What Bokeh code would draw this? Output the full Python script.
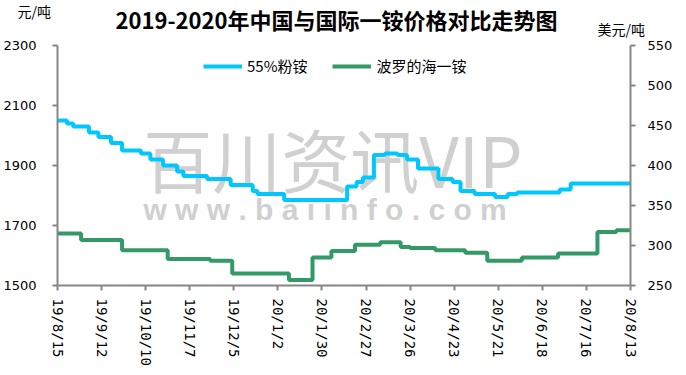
import pandas as pd
from bokeh.plotting import figure
from bokeh.layouts import column, row
from bokeh.models import Range1d, LinearAxis, FixedTicker, Label, Legend
from bokeh.embed import file_html
from bokeh.resources import INLINE

# ---- data ----
start_date = "2019-08-15"
tick_labels = ["19/8/15", "19/9/12", "19/10/10", "19/11/7", "19/12/5", "20/1/2", "20/1/30",
               "20/2/27", "20/3/26", "20/4/23", "20/5/21", "20/6/18", "20/7/16", "20/8/13"]
left_ticks = [1500, 1700, 1900, 2100, 2300]
right_ticks = [250, 300, 350, 400, 450, 500, 550]

cn_dates = ["2019-08-15", "2019-08-21", "2019-08-25", "2019-09-04", "2019-09-10", "2019-09-18",
            "2019-09-25", "2019-10-07", "2019-10-13", "2019-10-21", "2019-10-30", "2019-11-03",
            "2019-11-18", "2019-12-03", "2019-12-17", "2019-12-20", "2020-01-06", "2020-02-15",
            "2020-02-21", "2020-02-25", "2020-03-03", "2020-03-10", "2020-03-18", "2020-03-24",
            "2020-03-31", "2020-04-13", "2020-04-22", "2020-04-27", "2020-05-06", "2020-05-19",
            "2020-05-27", "2020-06-02", "2020-06-29", "2020-07-06", "2020-08-13"]
cn_values = [2050, 2040, 2030, 2010, 1995, 1975, 1950, 1940, 1920, 1900, 1880, 1865, 1855, 1835,
             1815, 1805, 1785, 1830, 1845, 1860, 1935, 1940, 1935, 1920, 1890, 1855, 1845, 1815,
             1805, 1795, 1805, 1810, 1820, 1840, 1840]

bal_dates = ["2019-08-15", "2019-08-30", "2019-09-25", "2019-10-24", "2019-11-20", "2019-12-04",
             "2020-01-09", "2020-01-24", "2020-02-05", "2020-02-20", "2020-03-07", "2020-03-20",
             "2020-03-26", "2020-04-11", "2020-04-30", "2020-05-14", "2020-06-05", "2020-06-28",
             "2020-07-23", "2020-08-04", "2020-08-13"]
bal_values = [315, 307, 294, 283, 281, 265, 257, 285, 293, 301, 304, 298, 297, 294, 291, 281,
              285, 290, 317, 319, 319]

title_text = "2019-2020年中国与国际一铵价格对比走势图"
left_unit = "元/吨"
right_unit = "美元/吨"

t0 = pd.Timestamp(start_date)
def days(ds):
    return [(pd.Timestamp(d) - t0).days for d in ds]

tick_pos = [(pd.to_datetime("20" + t, format="%Y/%m/%d") - t0).days for t in tick_labels]
cn_x = days(cn_dates)
bal_x = days(bal_dates)

BLUE = "#00C8FF"
GREEN = "#339966"
AXIS = "#868686"
W = 686
HEAD_H = 38

# ---- header strip (title + unit labels) ----
head = figure(width=W, height=HEAD_H, x_range=Range1d(0, W), y_range=Range1d(0, HEAD_H),
              output_backend="svg", toolbar_location=None, title=None,
              x_axis_type=None, y_axis_type=None, min_border=0)
head.outline_line_color = None
head.xgrid.visible = False
head.ygrid.visible = False
head.add_layout(Label(x=336, y=20, text=title_text, text_align="center", text_baseline="middle",
                      text_font="Noto Sans CJK SC", text_font_style="bold",
                      text_font_size="22px", text_color="black"))
head.add_layout(Label(x=17, y=28, text=left_unit, text_align="left", text_baseline="middle",
                      text_font="Noto Sans CJK SC", text_font_size="14px", text_color="black"))
head.add_layout(Label(x=597, y=10, text=right_unit, text_align="left", text_baseline="middle",
                      text_font="Noto Sans CJK SC", text_font_size="14px", text_color="black"))

# ---- main chart ----
p = figure(width=W, height=337, x_range=Range1d(tick_pos[0], tick_pos[-1]),
           y_range=Range1d(left_ticks[0], left_ticks[-1]),
           output_backend="svg", toolbar_location=None, title=None,
           min_border_left=57, min_border_right=56, min_border_top=7, min_border_bottom=90)
p.xgrid.visible = False
p.ygrid.visible = False
p.outline_line_color = None
p.background_fill_color = "white"
p.border_fill_color = "white"

p.extra_y_ranges = {"right": Range1d(right_ticks[0], right_ticks[-1])}

# watermark (behind the lines)
p.add_layout(Label(x=175, y=1925, text="百川资讯VIP", text_align="center", text_baseline="middle",
                   text_font="Noto Sans CJK SC", text_font_size="69px", text_color="#d0d0d0",
                   level="underlay"))
p.add_layout(Label(x=170, y=1753, text="w w w . b a i i n f o . c o m", text_align="center",
                   text_baseline="middle", text_font="Liberation Sans", text_font_style="bold",
                   text_font_size="30px", text_color="#d0d0d0", level="underlay"))

r1 = p.step(cn_x, cn_values, mode="after", line_color=BLUE, line_width=4)
r2 = p.step(bal_x, bal_values, mode="after", line_color=GREEN, line_width=4, y_range_name="right")

legend = Legend(items=[("55%粉铵", [r1]), ("波罗的海一铵", [r2])], orientation="horizontal",
                location=(146, 209), border_line_color=None, background_fill_alpha=0,
                padding=0, margin=0, spacing=25, glyph_width=39, glyph_height=14,
                label_height=14, label_standoff=5, label_text_font="Noto Sans CJK SC",
                label_text_font_size="15px", label_text_color="black")
p.add_layout(legend, "center")

def style_axis(ax):
    ax.axis_line_color = AXIS
    ax.axis_line_width = 2
    ax.major_tick_line_color = AXIS
    ax.major_tick_line_width = 2
    ax.major_tick_in = 0
    ax.major_tick_out = 5
    ax.minor_tick_line_color = None
    ax.major_label_text_color = "black"

ya = p.yaxis[0]
ya.ticker = FixedTicker(ticks=left_ticks)
style_axis(ya)
ya.major_label_text_font = "DejaVu Sans"
ya.major_label_text_font_size = "13px"
ya.major_label_standoff = 16

ra = LinearAxis(y_range_name="right", ticker=FixedTicker(ticks=right_ticks))
style_axis(ra)
ra.major_label_text_font = "DejaVu Sans"
ra.major_label_text_font_size = "13px"
ra.major_label_standoff = 12
p.add_layout(ra, "right")

xa = p.xaxis[0]
xa.ticker = FixedTicker(ticks=tick_pos)
xa.major_label_overrides = {pos: lab for pos, lab in zip(tick_pos, tick_labels)}
style_axis(xa)
xa.major_label_orientation = "vertical"
xa.major_label_text_font = "DejaVu Sans Mono"
xa.major_label_text_font_size = "14px"
xa.major_label_standoff = 8

layout = column(row(head), p, spacing=0)
open("out.html", "w").write(file_html(layout, INLINE))
